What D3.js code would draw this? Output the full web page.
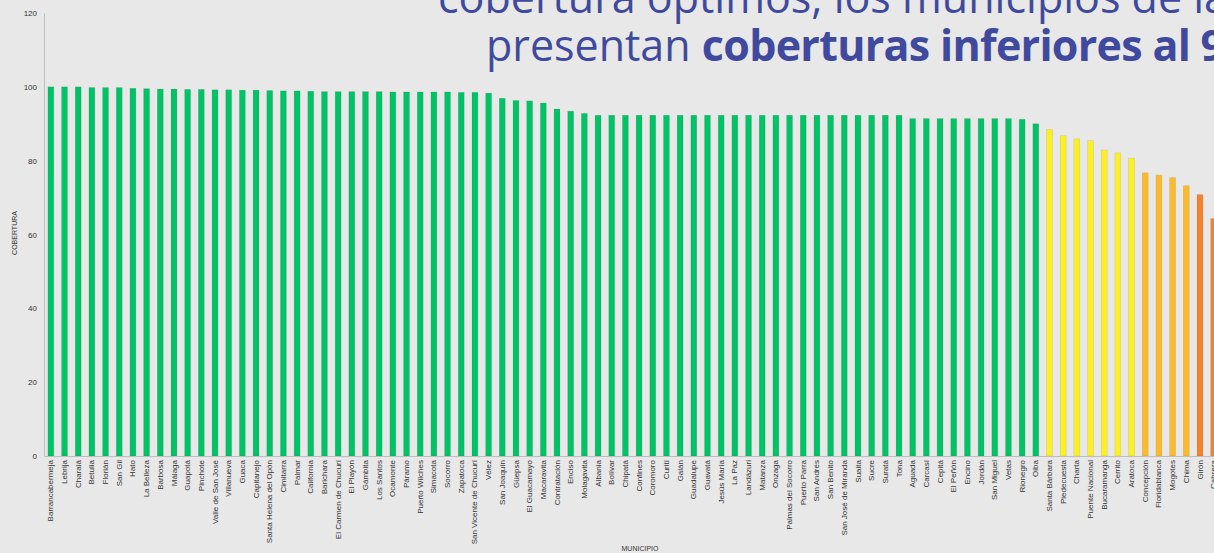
<!DOCTYPE html>
<html>
<head>
<meta charset="utf-8">
<script src="https://cdn.jsdelivr.net/npm/d3@7/dist/d3.min.js"></script>
<style>
  html, body { margin: 0; padding: 0; background: #e8e8e8; overflow: hidden; }
  svg { display: block; }
</style>
</head>
<body>
<svg id="chart" width="1214" height="553"></svg>
<script>
const municipios = [
  "Barrancabermeja","Lebrija","Charalá","Betulia","Florián","San Gil","Hato","La Belleza","Barbosa","Málaga",
  "Guapotá","Pinchote","Valle de San José","Villanueva","Guaca","Capitanejo","Santa Helena del Opón","Cimitarra","Palmar","California",
  "Barichara","El Carmen de Chucurí","El Playón","Gámbita","Los Santos","Ocamonte","Páramo","Puerto Wilches","Simacota","Socorro",
  "Zapatoca","San Vicente de Chucurí","Vélez","San Joaquín","Güepsa","El Guacamayo","Macaravita","Contratación","Enciso","Molagavita",
  "Albania","Bolívar","Chipatá","Confines","Coromoro","Curití","Galán","Guadalupe","Guavatá","Jesús María",
  "La Paz","Landázuri","Matanza","Onzaga","Palmas del Socorro","Puerto Parra","San Andrés","San Benito","San José de Miranda","Suaita",
  "Sucre","Suratá","Tona","Aguada","Carcasí","Cepitá","El Peñón","Encino","Jordán","San Miguel",
  "Vetas","Rionegro","Oiba","Santa Bárbara","Piedecuesta","Charta","Puente Nacional","Bucaramanga","Cerrito","Aratoca",
  "Concepción","Floridablanca","Mogotes","Chima","Girón","Cabrera"
];
const cobertura = [
  100.0,100.0,100.0,99.8,99.8,99.8,99.6,99.5,99.4,99.4,
  99.3,99.3,99.2,99.2,99.1,99.1,99.0,98.9,98.9,98.8,
  98.7,98.7,98.7,98.7,98.7,98.6,98.6,98.6,98.6,98.6,
  98.5,98.5,98.3,96.9,96.3,96.2,95.6,94.0,93.4,92.8,
  92.3,92.3,92.3,92.3,92.3,92.3,92.3,92.3,92.3,92.3,
  92.3,92.3,92.3,92.3,92.3,92.3,92.3,92.3,92.3,92.3,
  92.3,92.3,92.3,91.4,91.4,91.4,91.4,91.4,91.4,91.4,
  91.4,91.2,90.0,88.5,86.8,85.9,85.4,82.9,82.1,80.7,
  76.7,76.1,75.4,73.2,70.8,64.3
];
const yTicks = [0, 20, 40, 60, 80, 100, 120];
const tituloLinea1 = "cobertura óptimos, los municipios de la";
const tituloLinea2a = "presentan ";
const tituloLinea2b = "coberturas inferiores al 95%";

const data = municipios.map((m, i) => ({ m, v: cobertura[i] }));

const svg = d3.select("#chart");
const x0 = 44, yTop = 13, yBot = 456;
const step = 13.68;

const x = d3.scaleBand()
  .domain(municipios)
  .range([x0, x0 + step * municipios.length])
  .paddingInner(0.57)
  .paddingOuter(0.285);

const y = d3.scaleLinear().domain([0, 120]).range([yBot, yTop]);

const color = d3.scaleThreshold()
  .domain([72, 79, 89.5])
  .range(["#f5822a", "#fbba2c", "#fdef26", "#00c366"]);

// bars
svg.append("g").selectAll("rect")
  .data(data)
  .enter().append("rect")
  .attr("x", d => x(d.m))
  .attr("y", d => y(d.v))
  .attr("width", x.bandwidth())
  .attr("height", d => y(0) - y(d.v))
  .attr("fill", d => color(d.v))
  .attr("stroke", "rgba(0,0,0,0.12)")
  .attr("stroke-width", 0.6);

// y axis
const yAxis = svg.append("g")
  .attr("transform", `translate(${x0},0)`)
  .call(d3.axisLeft(y).tickValues(yTicks).tickSize(0).tickPadding(7));
yAxis.select(".domain").attr("stroke", "#bdbdbd").attr("stroke-width", 1);
yAxis.selectAll("text")
  .attr("font-family", "Liberation Sans, Arial, sans-serif")
  .attr("font-size", 8)
  .attr("fill", "#333");

// x axis
const xAxis = svg.append("g")
  .attr("transform", `translate(0,${yBot})`)
  .call(d3.axisBottom(x).tickSize(0).tickPadding(4));
xAxis.select(".domain").attr("stroke", "#bdbdbd").attr("stroke-width", 1);
xAxis.selectAll("text")
  .attr("font-family", "Liberation Sans, Arial, sans-serif")
  .attr("font-size", 8)
  .attr("fill", "#333")
  .attr("text-anchor", "end")
  .attr("dy", "0.32em")
  .attr("x", 0)
  .attr("y", 0)
  .attr("transform", `translate(0,4) rotate(-90)`);

// axis titles
svg.append("text")
  .attr("transform", `translate(17,233) rotate(-90)`)
  .attr("text-anchor", "middle")
  .attr("font-family", "Liberation Sans, Arial, sans-serif")
  .attr("font-size", 7)
  .attr("fill", "#333")
  .text("COBERTURA");

svg.append("text")
  .attr("x", 640).attr("y", 551)
  .attr("text-anchor", "middle")
  .attr("font-family", "Liberation Sans, Arial, sans-serif")
  .attr("font-size", 7)
  .attr("fill", "#333")
  .text("MUNICIPIO");

// overlaid title text (slide heading)
const title = svg.append("g")
  .attr("font-family", "Open Sans, sans-serif")
  .attr("font-size", 43)
  .attr("fill", "#3f4a9e");
title.append("text").attr("x", 438).attr("y", 13).text(tituloLinea1);
const t2 = title.append("text").attr("x", 486).attr("y", 61);
t2.append("tspan").text(tituloLinea2a);
t2.append("tspan").attr("font-weight", "bold").attr("letter-spacing", -0.7).text(tituloLinea2b);
</script>
</body>
</html>
